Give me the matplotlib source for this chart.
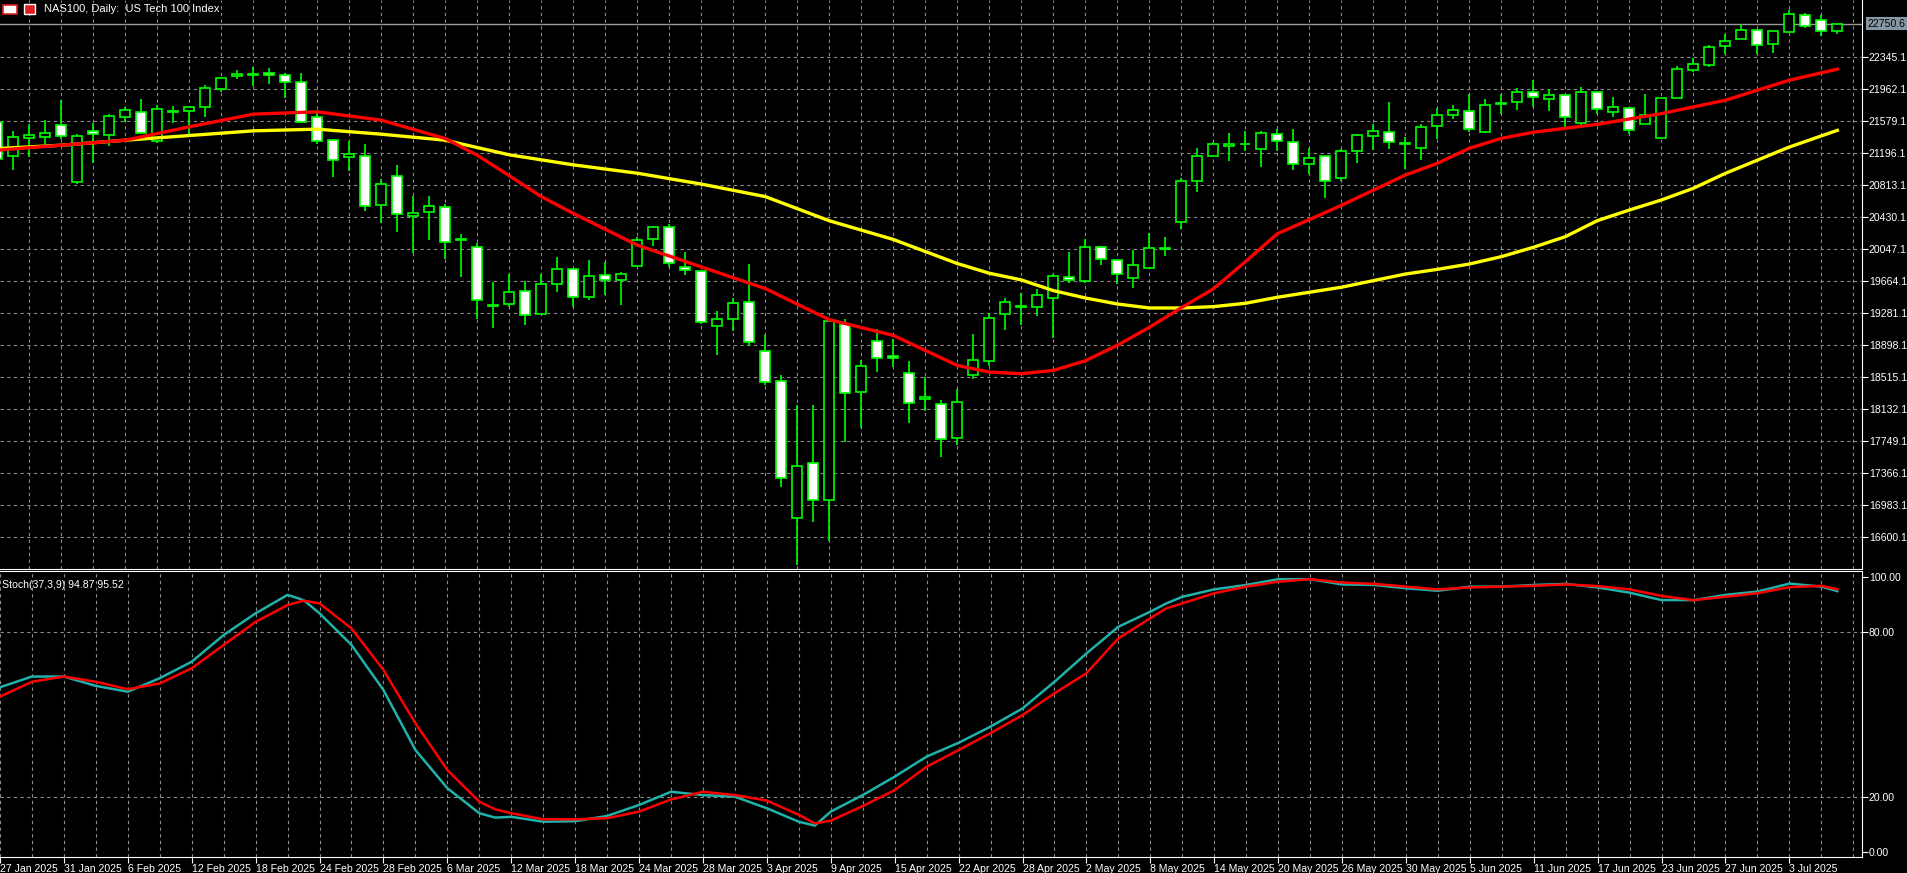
import numpy as np
import matplotlib.pyplot as plt
from matplotlib.patches import Rectangle
from matplotlib.transforms import blended_transform_factory

plt.rcParams['font.family'] = ['Liberation Sans', 'DejaVu Sans']

# daily candles NAS100, 27 Jan 2025 .. 8 Jul 2025
opens = [21567, 21167, 21387, 21399, 21531, 20855, 21463, 21419, 21627, 21687,
         21347, 21691, 21699, 21747, 21971, 22119, 22139, 22155, 22131, 22047,
         21627, 21363, 21155, 21167, 20583, 20931, 20451, 20495, 20559, 20163,
         20071, 19379, 19399, 19555, 19279, 19639, 19819, 19479, 19747, 19687,
         19855, 20167, 20311, 19843, 19795, 19135, 19219, 19423, 18835, 18475,
         16831, 17491, 17047, 19159, 18343, 18955, 18775, 18571, 18259, 18199,
         17791, 18547, 18715, 19275, 19361, 19355, 19467, 19715, 19667, 20075,
         19919, 19707, 19827, 20055, 20379, 20871, 21171, 21291, 21305, 21255,
         21435, 21339, 21075, 21171, 20907, 21231, 21411, 21459, 21313, 21267,
         21521, 21653, 21701, 21449, 21787, 21809, 21929, 21845, 21893, 21557,
         21929, 21689, 21737, 21545, 21377, 21856, 22191, 22251, 22478, 22562,
         22670, 22502, 22646, 22849, 22790, 22658]
highs = [21580, 21463, 21543, 21591, 21831, 21435, 21555, 21663, 21755, 21847,
         21771, 21759, 21750, 22015, 22115, 22195, 22235, 22215, 22155, 22155,
         21675, 21370, 21343, 21315, 20895, 21063, 20683, 20683, 20595, 20235,
         20127, 19659, 19759, 19667, 19751, 19959, 19819, 19927, 19895, 19779,
         20199, 20327, 20351, 20011, 19795, 19307, 19467, 19871, 19019, 18539,
         18191, 18191, 19191, 19219, 18727, 19099, 18979, 18715, 18523, 18247,
         18379, 19039, 19287, 19467, 19523, 19575, 19755, 20019, 20171, 20091,
         19919, 20043, 20247, 20199, 20907, 21267, 21339, 21447, 21471, 21471,
         21495, 21495, 21267, 21171, 21255, 21435, 21543, 21807, 21399, 21543,
         21737, 21773, 21905, 21845, 21905, 21977, 22073, 21965, 21893, 21989,
         21929, 21869, 21737, 21905, 21856, 22239, 22335, 22490, 22622, 22742,
         22670, 22658, 22913, 22873, 22849, 22754]
lows = [21100, 20995, 21155, 21315, 21371, 20827, 21083, 21283, 21575, 21427,
        21323, 21555, 21395, 21635, 21935, 22087, 22003, 22027, 21863, 21560,
        21315, 20915, 20987, 20507, 20363, 20255, 20003, 20155, 19935, 19715,
        19219, 19107, 19359, 19139, 19279, 19539, 19359, 19439, 19499, 19379,
        19855, 20087, 19839, 19739, 19159, 18779, 19071, 18891, 18427, 17199,
        16267, 16791, 16559, 17743, 17907, 18579, 18639, 17967, 18115, 17563,
        17707, 18499, 18650, 19083, 19139, 19255, 18987, 19643, 19643, 19859,
        19635, 19587, 19827, 19971, 20295, 20739, 21155, 21111, 21227, 21035,
        21231, 21003, 20955, 20667, 20871, 21087, 21243, 21255, 21015, 21123,
        21365, 21605, 21449, 21437, 21665, 21713, 21749, 21701, 21509, 21533,
        21665, 21629, 21425, 21545, 21377, 21856, 22167, 22227, 22383, 22562,
        22383, 22395, 22646, 22694, 22598, 22630]
closes = [21135, 21399, 21423, 21447, 21411, 21411, 21435, 21639, 21711, 21447,
          21723, 21695, 21747, 21975, 22095, 22143, 22141, 22131, 22047, 21567,
          21351, 21123, 21195, 20567, 20835, 20475, 20487, 20571, 20135, 20165,
          19447, 19367, 19543, 19267, 19639, 19819, 19479, 19735, 19687, 19759,
          20155, 20311, 19891, 19807, 19183, 19219, 19411, 18943, 18463, 17311,
          17455, 17047, 19191, 18331, 18655, 18751, 18743, 18211, 18283, 17779,
          18223, 18727, 19227, 19419, 19365, 19503, 19731, 19683, 20075, 19935,
          19755, 19863, 20067, 20067, 20871, 21171, 21315, 21315, 21309, 21447,
          21351, 21075, 21147, 20871, 21231, 21423, 21471, 21339, 21317, 21519,
          21653, 21713, 21485, 21773, 21791, 21929, 21869, 21893, 21629, 21929,
          21725, 21749, 21473, 21653, 21856, 22203, 22263, 22466, 22538, 22670,
          22490, 22658, 22862, 22718, 22658, 22751]

# moving averages (read at sampled bars)
ma_fast_idx = [0, 4, 8, 12, 16, 20, 24, 28, 30, 32, 34, 36, 40, 44, 48, 52, 56, 60, 62,
               64, 66, 68, 70, 72, 74, 76, 78, 80, 84, 88, 90, 92, 94, 96, 100, 104,
               108, 112, 115]
ma_fast = [21235, 21295, 21355, 21515, 21667, 21695, 21595, 21375, 21175, 20930, 20680,
           20479, 20099, 19839, 19579, 19207, 19019, 18659, 18580, 18560, 18600, 18715,
           18900, 19115, 19350, 19575, 19900, 20235, 20575, 20938, 21078, 21258, 21377,
           21450, 21545, 21673, 21833, 22073, 22205]
ma_slow_idx = [0, 4, 8, 12, 16, 20, 24, 28, 30, 32, 36, 40, 44, 48, 52, 56, 60, 62, 64,
               66, 68, 70, 72, 74, 76, 78, 80, 84, 88, 90, 92, 94, 96, 98, 100, 102, 104,
               106, 108, 112, 115]
ma_slow = [21255, 21295, 21355, 21411, 21467, 21487, 21427, 21355, 21267, 21180, 21060,
           20960, 20830, 20680, 20391, 20167, 19879, 19763, 19683, 19555, 19467, 19395,
           19347, 19347, 19363, 19403, 19475, 19595, 19753, 19809, 19873, 19961, 20073,
           20200, 20392, 20519, 20639, 20779, 20958, 21273, 21473]

# stochastic (37,3,9)
stoch_idx = [0, 2, 4, 6, 8, 10, 12, 14, 16, 18, 19, 20, 22, 24, 26, 28, 30, 31, 32, 34,
             36, 38, 40, 42, 44, 46, 48, 50, 51, 52, 54, 56, 58, 60, 62, 64, 66, 68, 70,
             72, 73, 74, 76, 78, 80, 82, 84, 86, 88, 90, 92, 94, 96, 98, 100, 102, 104,
             106, 108, 110, 112, 114, 115]
stoch_main = [59.9, 63.8, 63.8, 60.4, 58.3, 63.2, 69.2, 78.9, 86.8, 93.5, 91.6, 86.8,
              75.3, 58.9, 37.1, 23.2, 14.1, 12.5, 12.8, 11.0, 11.2, 13.1, 17.1, 21.9,
              20.7, 20.1, 15.9, 11.0, 9.6, 14.7, 20.7, 27.4, 34.7, 39.7, 45.6, 52.2,
              61.9, 72.2, 81.9, 87.4, 90.4, 92.8, 95.5, 97.1, 99.2, 99.2, 97.3, 97.1,
              95.9, 95.0, 96.5, 96.5, 97.1, 97.5, 96.2, 94.3, 91.6, 91.6, 93.5, 94.7,
              97.6, 96.5, 94.87]
stoch_signal = [56.5, 61.9, 63.8, 61.9, 59.2, 61.3, 66.8, 75.3, 83.7, 89.8, 91.4, 90.4,
                81.3, 66.2, 46.8, 29.8, 18.3, 15.5, 14.1, 11.9, 11.9, 12.3, 14.7, 19.1,
                21.9, 20.7, 18.7, 13.5, 10.4, 11.4, 16.7, 22.5, 31.0, 37.1, 43.2, 49.8,
                57.7, 65.0, 77.7, 85.0, 88.6, 90.4, 94.1, 96.5, 98.3, 99.2, 98.0, 97.5,
                96.5, 95.5, 96.2, 96.5, 96.8, 97.3, 96.7, 95.5, 93.1, 91.6, 92.8, 94.1,
                96.3, 96.8, 95.52]

date_labels = ['27 Jan 2025', '31 Jan 2025', '6 Feb 2025', '12 Feb 2025', '18 Feb 2025',
               '24 Feb 2025', '28 Feb 2025', '6 Mar 2025', '12 Mar 2025', '18 Mar 2025',
               '24 Mar 2025', '28 Mar 2025', '3 Apr 2025', '9 Apr 2025', '15 Apr 2025',
               '22 Apr 2025', '28 Apr 2025', '2 May 2025', '8 May 2025', '14 May 2025',
               '20 May 2025', '26 May 2025', '30 May 2025', '5 Jun 2025', '11 Jun 2025',
               '17 Jun 2025', '23 Jun 2025', '27 Jun 2025', '3 Jul 2025']
price_ticks = [22345.1 - 383 * k for k in range(16)]
last_price = 22750.6

W, H = 1907, 873
FS = 7.6
fig = plt.figure(figsize=(W / 100, H / 100), dpi=100, facecolor='black')
ax = fig.add_axes([0, (H - 569) / H, 1862 / W, 569 / H], facecolor='black')
ax2 = fig.add_axes([0, (H - 857) / H, 1862 / W, 286 / H], facecolor='black')

n = len(opens)
xmin = 2.7 / 16
xmax = xmin + 1862 / 16
grid_kw = dict(color='#8a8a8a', lw=0.8, ls=(0, (3, 3)), zorder=0)
for a in (ax, ax2):
    a.set_xlim(xmin, xmax)
    for gx in range(0, 118, 2):
        a.axvline(gx, **grid_kw)
    for s in a.spines.values():
        s.set_color('white')
    a.spines['left'].set_visible(False)
    a.yaxis.tick_right()
    a.tick_params(axis='y', colors='white', labelsize=FS, length=4, pad=1)

# main panel
ax.set_ylim(16223, 23033)
ax.spines['top'].set_visible(False)
for p in price_ticks:
    ax.axhline(p, **grid_kw)
ax.set_yticks(price_ticks)
ax.set_yticklabels([f'{p:.1f}' for p in price_ticks])
ax.set_xticks([])

idx = np.arange(n)
o = np.array(opens); c = np.array(closes)
ax.vlines(idx, lows, highs, color='#00ff00', lw=1.2, zorder=2)
body = np.where(np.abs(c - o) < 8, 8, c - o)
fill = ['white' if ci < oi else 'black' for oi, ci in zip(opens, closes)]
ax.bar(idx, body, bottom=o, width=0.64, color=fill, edgecolor='#00ff00', lw=1.2, zorder=3)

ax.plot(ma_slow_idx, ma_slow, color='#ffff00', lw=2.4, zorder=4)
ax.plot(ma_fast_idx, ma_fast, color='#ff0000', lw=2.4, zorder=5)

ax.axhline(last_price, color='#9a9a9a', lw=1, zorder=1)
tr = blended_transform_factory(ax.transAxes, ax.transData)
ax.text(1.003, last_price, f'{last_price:.1f}', transform=tr, fontsize=FS, color='black',
        va='center', ha='left',
        bbox=dict(boxstyle='square,pad=0.12', facecolor='#8796a3', edgecolor='none'))

# header: small symbol icons and title
fig.patches.append(Rectangle((3 / W, 1 - 14 / H), 14 / W, 9 / H, transform=fig.transFigure,
                             facecolor='white', edgecolor='#e02020', lw=1.2))
fig.patches.append(Rectangle((24 / W, 1 - 14 / H), 11 / W, 10 / H, transform=fig.transFigure,
                             facecolor='#e02020', edgecolor='white', lw=1.0))
fig.text(44 / W, 1 - 9.5 / H, 'NAS100, Daily:  US Tech 100 Index', color='white',
         fontsize=FS + 0.4, va='center', ha='left')

# stochastic panel
ax2.set_ylim((852 - 857) / 2.75, (852 - 571) / 2.75)
for lvl in (80, 20):
    ax2.axhline(lvl, **grid_kw)
ax2.set_yticks([100, 80, 20, 0])
ax2.set_yticklabels(['100.00', '80.00', '20.00', '0.00'])
ax2.plot(stoch_idx, stoch_main, color='#20b2aa', lw=1.8, zorder=3)
ax2.plot(stoch_idx, stoch_signal, color='#ff0000', lw=1.8, zorder=4)
ax2.set_xticks(list(range(0, 4 * len(date_labels), 4)))
ax2.set_xticklabels(date_labels, ha='left')
ax2.tick_params(axis='x', colors='white', labelsize=FS, length=4, pad=1)
ax2.text(0.001, 0.95, 'Stoch(37,3,9) 94.87 95.52', transform=ax2.transAxes, color='white',
         fontsize=FS, va='center', ha='left')

fig.savefig('out.png', dpi=100, facecolor='black')
